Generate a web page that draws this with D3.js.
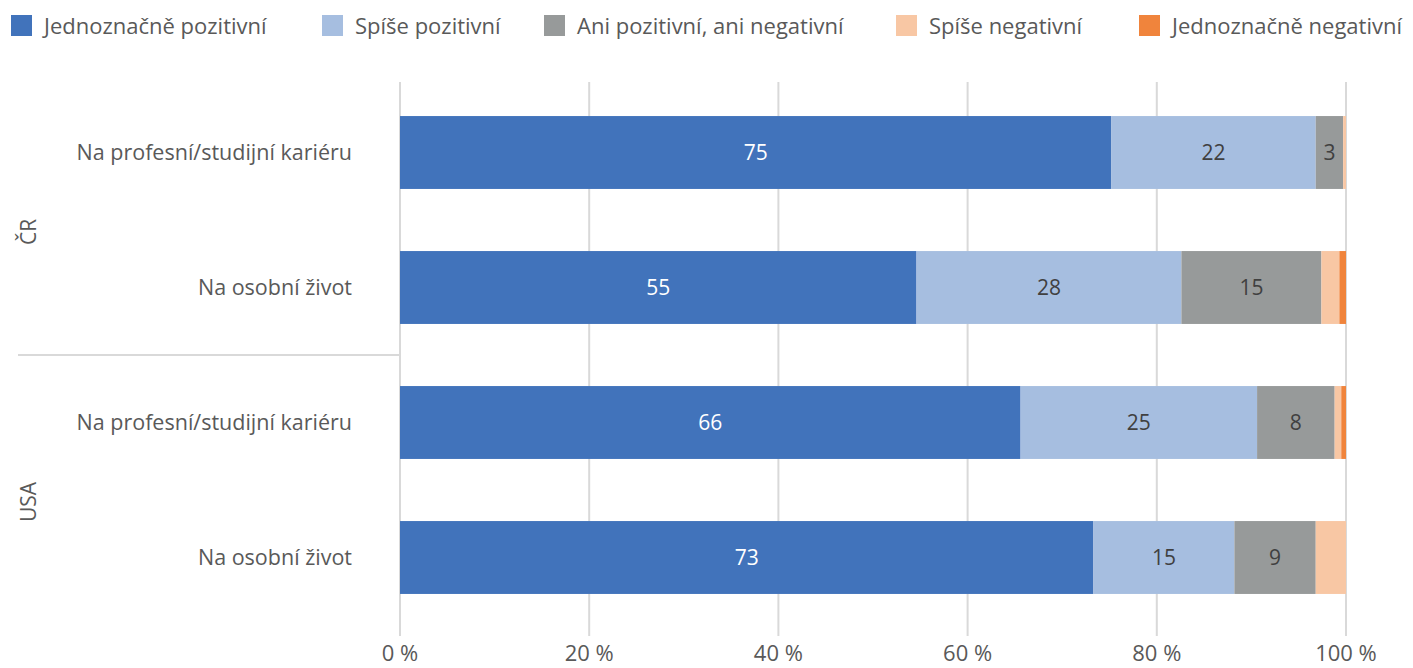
<!DOCTYPE html>
<html>
<head>
<meta charset="utf-8">
<script src="https://cdn.jsdelivr.net/npm/d3@7"></script>
<style>
  body { margin: 0; background: #fff; }
  text { font-family: "Open Sans", sans-serif; }
</style>
</head>
<body>
<div id="chart"></div>
<script>
// categories (top to bottom)
const groups = ["ČR", "ČR", "USA", "USA"];
const questions = ["Na profesní/studijní kariéru", "Na osobní život", "Na profesní/studijní kariéru", "Na osobní život"];
const seriesNames = ["Jednoznačně pozitivní", "Spíše pozitivní", "Ani pozitivní, ani negativní", "Spíše negativní", "Jednoznačně negativní"];
const seriesColors = ["#4173bb", "#a6bee0", "#979a9a", "#f8c7a4", "#f0843c"];
const labelColors = ["#ffffff", "#404040", "#404040"];   // only first three series are labelled

// values in %, one array per series (rows as above)
const jednPoz = [75.2, 54.6, 65.6, 73.3];
const spisePoz = [21.6, 28.0, 25.0, 14.9];
const aniAni = [2.9, 14.8, 8.2, 8.6];
const spiseNeg = [0.3, 1.9, 0.7, 3.2];
const jednNeg = [0.0, 0.7, 0.5, 0.0];
const ticks = [0, 20, 40, 60, 80, 100];

const width = 1413, height = 668;
const svg = d3.select("#chart").append("svg")
  .attr("width", width).attr("height", height);

const x = d3.scaleLinear().domain([0, 100]).range([400, 1346]);
const y = d3.scaleBand().domain(d3.range(questions.length)).range([85, 625])
  .paddingInner(0.46).paddingOuter(0.23);

// gridlines
svg.append("g").selectAll("line").data(ticks).enter().append("line")
  .attr("x1", d => x(d)).attr("x2", d => x(d))
  .attr("y1", 82).attr("y2", 636)
  .attr("stroke", "#d9d9d9").attr("stroke-width", 2);

svg.append("g").selectAll("text").data(ticks).enter().append("text")
  .attr("x", d => x(d)).attr("y", 661)
  .attr("text-anchor", "middle")
  .attr("font-size", 22).attr("fill", "#595959")
  .text(d => d + " %");

// stack
const rows = questions.map((q, i) => ({
  i, v: [jednPoz[i], spisePoz[i], aniAni[i], spiseNeg[i], jednNeg[i]]
}));
const stacked = d3.stack().keys(d3.range(5)).value((d, k) => d.v[k])(rows);

const layer = svg.append("g").selectAll("g").data(stacked).enter().append("g");
layer.selectAll("rect").data(d => d).enter().append("rect")
  .attr("x", d => x(d[0]))
  .attr("width", d => x(d[1]) - x(d[0]))
  .attr("y", d => y(d.data.i))
  .attr("height", y.bandwidth())
  .attr("fill", function() { return seriesColors[d3.select(this.parentNode).datum().key]; });

layer.filter(s => s.key < 3).each(function(s) {
  d3.select(this).selectAll("text").data(s).enter().append("text")
    .attr("x", d => (x(d[0]) + x(d[1])) / 2)
    .attr("y", d => y(d.data.i) + y.bandwidth() / 2)
    .attr("dy", "0.35em")
    .attr("text-anchor", "middle")
    .attr("font-size", 21)
    .attr("fill", labelColors[s.key])
    .text(d => Math.round(d[1] - d[0]));
});

// category labels
svg.append("g").selectAll("text").data(questions).enter().append("text")
  .attr("x", 352)
  .attr("y", (d, i) => y(i) + y.bandwidth() / 2)
  .attr("dy", "0.35em")
  .attr("text-anchor", "end")
  .attr("font-size", 21.5).attr("fill", "#595959")
  .text(d => d);

// group labels
const groupNames = Array.from(new Set(groups));
groupNames.forEach(g => {
  const idx = d3.range(groups.length).filter(i => groups[i] === g);
  const cy = (y(idx[0]) + y(idx[idx.length - 1]) + y.bandwidth()) / 2 + 12;
  svg.append("text")
    .attr("transform", `translate(36,${cy}) rotate(-90)`)
    .attr("text-anchor", "middle")
    .attr("font-size", 21).attr("fill", "#595959")
    .text(g);
});
svg.append("line")
  .attr("x1", 18).attr("x2", 400)
  .attr("y1", 355).attr("y2", 355)
  .attr("stroke", "#d9d9d9").attr("stroke-width", 2);

// legend
const legendX = [11, 322, 544, 896, 1139];
const legend = svg.append("g").selectAll("g").data(seriesNames).enter().append("g")
  .attr("transform", (d, i) => `translate(${legendX[i]},15)`);
legend.append("rect").attr("width", 21).attr("height", 21)
  .attr("fill", (d, i) => seriesColors[i]);
legend.append("text").attr("x", 33).attr("y", 11).attr("dy", "0.35em")
  .attr("font-size", 22).attr("fill", "#595959")
  .text(d => d);
</script>
</body>
</html>
